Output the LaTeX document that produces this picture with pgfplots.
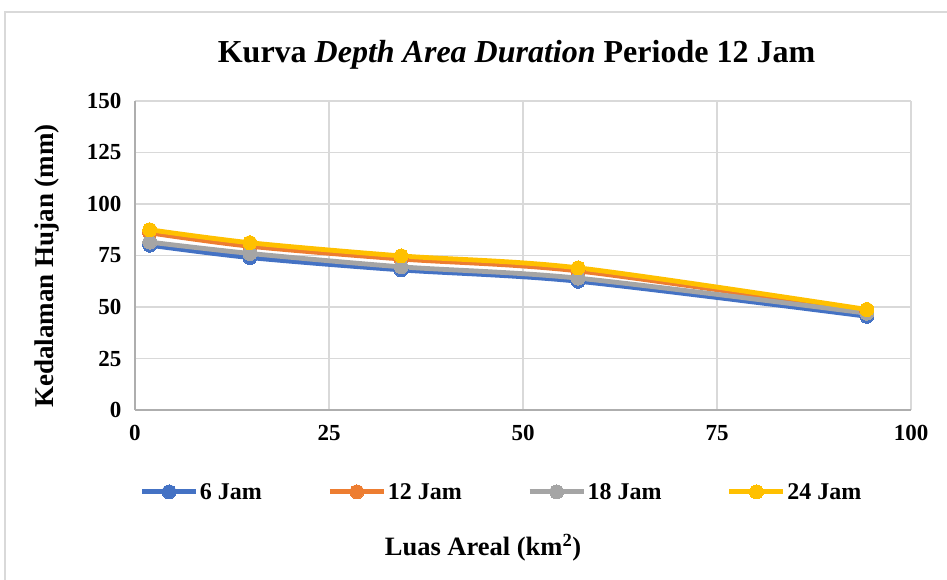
\documentclass[border=0pt]{standalone}
\usepackage{pgfplots}
\pgfplotsset{compat=1.18}
\usepackage{fontspec}
\setmainfont{Liberation Serif}
\definecolor{cBlue}{HTML}{4472C4}
\definecolor{cOrange}{HTML}{ED7D31}
\definecolor{cGray}{HTML}{A5A5A5}
\definecolor{cYellow}{HTML}{FFC000}
\definecolor{cGrid}{HTML}{D9D9D9}
\begin{document}
\begin{tikzpicture}
\begin{axis}[
  at={(0pt,0pt)}, anchor=south west,
  scale only axis, width=776pt, height=309pt,
  xmin=0, xmax=100, ymin=0, ymax=150,
  xtick={0,25,50,75,100}, ytick={0,25,50,75,100,125,150},
  grid=major, grid style={draw=cGrid, line width=1.5pt},
  axis line style={draw=cGrid!80!black, line width=1.5pt},
  axis x line*=bottom, axis y line*=left,
  major tick length=0pt,
  /pgf/number format/assume math mode=true,
  ticklabel style={font=\fontsize{23}{23}\selectfont\bfseries},
  xticklabel style={yshift=-12pt},
  yticklabel style={xshift=-10pt},
  every axis plot/.append style={line width=4.8pt, smooth, tension=0.5},
  legend columns=4,
  legend style={draw=none, fill=none, at={(0.472,-0.265)}, anchor=center,
    font=\fontsize{24}{24}\selectfont\bfseries,
    nodes={inner sep=1.5pt},
    /tikz/every even column/.append style={column sep=64pt}},
  legend cell align=left,
  legend image code/.code={\draw[#1, mark repeat=2, mark phase=2, sharp plot] plot coordinates {(0pt,0pt) (27pt,0pt) (54pt,0pt)};},
]
\addplot[color=cBlue, mark=*, mark size=7pt, mark options={solid, fill=cBlue, line width=0pt}] coordinates {(1.9,80) (14.8,74) (34.3,68) (57.1,62.5) (94.3,45.5)};
\addlegendentry{6 Jam}
\addplot[color=cOrange, mark=*, mark size=7pt, mark options={solid, fill=cOrange, line width=0pt}] coordinates {(1.9,86) (14.8,79.5) (34.3,73.3) (57.1,67.5) (94.3,47.8)};
\addlegendentry{12 Jam}
\addplot[color=cGray, mark=*, mark size=7pt, mark options={solid, fill=cGray, line width=0pt}] coordinates {(1.9,81.5) (14.8,76) (34.3,69.5) (57.1,64) (94.3,47)};
\addlegendentry{18 Jam}
\addplot[color=cYellow, mark=*, mark size=7pt, mark options={solid, fill=cYellow, line width=0pt}] coordinates {(1.9,87.5) (14.8,81.2) (34.3,74.8) (57.1,69) (94.3,48.8)};
\addlegendentry{24 Jam}
\end{axis}
\node[font=\fontsize{32}{32}\selectfont\bfseries] at (381.5pt,355pt) {Kurva \textit{Depth Area Duration} Periode 12 Jam};
\node[font=\fontsize{27}{27}\selectfont\bfseries, rotate=90] at (-88pt,144pt) {Kedalaman Hujan (mm)};
\node[font=\fontsize{26.5}{26.5}\selectfont\bfseries] at (348pt,-138pt) {Luas Areal (km\textsuperscript{2})};
\draw[cGrid, line width=1.2pt] (-130pt,-170pt) -- (-130pt,398pt) -- (812pt,398pt);
\pgfresetboundingbox
\useasboundingbox (-135pt,-170pt) rectangle (812pt,410pt);
\end{tikzpicture}
\end{document}
